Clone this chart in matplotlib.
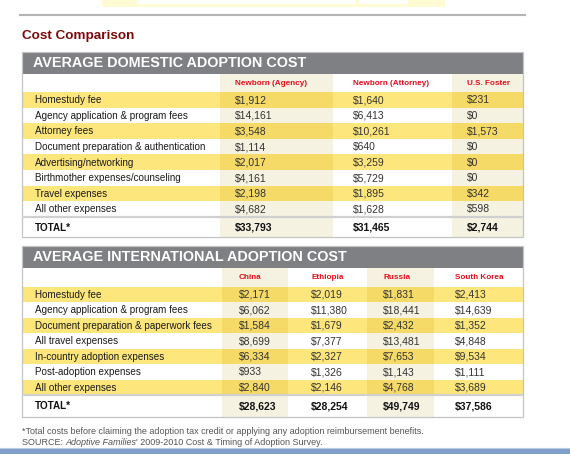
import matplotlib
matplotlib.use('Agg')
import matplotlib.pyplot as plt
from matplotlib.patches import Rectangle

# domestic adoption costs
dom_items = ['Homestudy fee', 'Agency application & program fees', 'Attorney fees',
             'Document preparation & authentication', 'Advertising/networking',
             'Birthmother expenses/counseling', 'Travel expenses', 'All other expenses']
dom_cols = ['Newborn (Agency)', 'Newborn (Attorney)', 'U.S. Foster']
dom_agency = [1912, 14161, 3548, 1114, 2017, 4161, 2198, 4682]
dom_attorney = [1640, 6413, 10261, 640, 3259, 5729, 1895, 1628]
dom_foster = [231, 0, 1573, 0, 0, 0, 342, 598]
dom_totals = [33793, 31465, 2744]

# international adoption costs
intl_items = ['Homestudy fee', 'Agency application & program fees',
              'Document preparation & paperwork fees', 'All travel expenses',
              'In-country adoption expenses', 'Post-adoption expenses', 'All other expenses']
intl_cols = ['China', 'Ethiopia', 'Russia', 'South Korea']
intl_china = [2171, 6062, 1584, 8699, 6334, 933, 2840]
intl_ethiopia = [2019, 11380, 1679, 7377, 2327, 1326, 2146]
intl_russia = [1831, 18441, 2432, 13481, 7653, 1143, 4768]
intl_korea = [2413, 14639, 1352, 4848, 9534, 1111, 3689]
intl_totals = [28623, 28254, 49749, 37586]

YELLOW = '#fde67c'
YELLOW_DARK = '#f5da68'
CREAM = '#f5f2e2'
GRAY_HEAD = '#7f8084'
RED = '#e2101c'
NARROW = ['Liberation Sans Narrow', 'DejaVu Sans Condensed', 'Liberation Sans', 'DejaVu Sans']
WIDE = ['Liberation Sans', 'DejaVu Sans']

LEFT, RIGHT = 22, 523
LABEL_FS, VALUE_FS = 7.1, 7.5


def money(v):
    return f'${v:,}'


def draw_table(ax, top, title, items, cols, values, totals, edges, text_x, shaded,
               row_h, colhead_h, total_h):
    head_h = 21.5
    # gray title bar
    ax.add_patch(Rectangle((LEFT, top), RIGHT - LEFT, head_h, color=GRAY_HEAD, lw=0))
    ax.text(LEFT + 11, top + head_h / 2 + 0.5, title, color='white', fontsize=10.4,
            fontweight='bold', family=WIDE, va='center', ha='left')

    y = top + head_h
    # column header row
    for j, col in enumerate(cols):
        if shaded[j]:
            ax.add_patch(Rectangle((edges[j], y), edges[j + 1] - edges[j], colhead_h,
                                   color=CREAM, lw=0))
        ax.text(text_x[j], y + colhead_h / 2 + 0.5, col, color=RED, fontsize=5.9,
                fontweight='bold', family=NARROW, va='center', ha='left')
    y += colhead_h

    for i, item in enumerate(items):
        yellow = i % 2 == 0
        if yellow:
            ax.add_patch(Rectangle((LEFT, y), RIGHT - LEFT, row_h, color=YELLOW, lw=0))
        for j in range(len(cols)):
            if shaded[j]:
                ax.add_patch(Rectangle((edges[j], y), edges[j + 1] - edges[j], row_h,
                                       color=YELLOW_DARK if yellow else CREAM, lw=0))
            ax.text(text_x[j], y + row_h / 2 + 0.5, money(values[j][i]), color='#333333',
                    fontsize=VALUE_FS, family=NARROW, va='center', ha='left')
        ax.text(35, y + row_h / 2 + 0.5, item, color='#1a1a1a', fontsize=LABEL_FS,
                family=NARROW, va='center', ha='left')
        y += row_h

    # total row
    for j in range(len(cols)):
        if shaded[j]:
            ax.add_patch(Rectangle((edges[j], y), edges[j + 1] - edges[j], total_h,
                                   color=CREAM, lw=0))
        ax.text(text_x[j], y + total_h / 2 + 0.5, money(totals[j]), color='#111111',
                fontsize=VALUE_FS, fontweight='bold', family=NARROW, va='center', ha='left')
    ax.text(35, y + total_h / 2 + 0.5, 'TOTAL*', color='#111111', fontsize=LABEL_FS,
            fontweight='bold', family=NARROW, va='center', ha='left')
    ax.plot([LEFT, RIGHT], [y, y], color='#d0d0d0', lw=1.6, solid_capstyle='butt')

    bottom = y + total_h
    ax.add_patch(Rectangle((LEFT, top), RIGHT - LEFT, bottom - top, fill=False,
                           ec='#c4c4c4', lw=0.9))


def main():
    fig = plt.figure(figsize=(5.7, 4.54), dpi=100)
    ax = fig.add_axes([0, 0, 1, 1])
    ax.set_xlim(0, 570)
    ax.set_ylim(454, 0)
    ax.axis('off')

    # page decorations
    ax.add_patch(Rectangle((102, 0), 343, 7, color='#fffbd2', lw=0))
    ax.add_patch(Rectangle((138, 0), 218, 3.5, color='white', lw=0))
    ax.add_patch(Rectangle((359, 0), 49, 3.5, color='white', lw=0))
    ax.plot([20, 525], [15, 15], color='#b4b4b4', lw=1.5)
    ax.add_patch(Rectangle((0, 448), 570, 6, color='#7d9fc8', lw=0))
    ax.plot([0, 570], [448, 448], color='#b9cce2', lw=0.8)

    ax.text(22, 35.5, 'Cost Comparison', color='#7a0c0c', fontsize=9.7, fontweight='bold',
            family=WIDE, va='center', ha='left')

    draw_table(ax, 52, 'AVERAGE DOMESTIC ADOPTION COST', dom_items, dom_cols,
               [dom_agency, dom_attorney, dom_foster], dom_totals,
               edges=[220, 333, 452, 523], text_x=[235, 353, 467],
               shaded=[True, False, True], row_h=15.6, colhead_h=18.5, total_h=20.5)

    draw_table(ax, 246, 'AVERAGE INTERNATIONAL ADOPTION COST', intl_items, intl_cols,
               [intl_china, intl_ethiopia, intl_russia, intl_korea], intl_totals,
               edges=[222, 288, 367, 434, 523], text_x=[239, 311, 383, 455],
               shaded=[True, False, True, False], row_h=15.5, colhead_h=19, total_h=21.5)

    fs = 6.5
    ax.text(22, 431, '*Total costs before claiming the adoption tax credit or applying any '
            'adoption reimbursement benefits.', color='#555555', fontsize=fs,
            family=WIDE, va='center', ha='left')
    t = ax.text(22, 442.5, 'SOURCE: ', color='#555555', fontsize=fs, family=WIDE,
                va='center', ha='left')
    fig.canvas.draw()
    t = ax.annotate('Adoptive Families', xycoords=t, xy=(1, 0.5), va='center', ha='left',
                    color='#555555', fontsize=fs, family=WIDE, style='italic')
    ax.annotate("' 2009-2010 Cost & Timing of Adoption Survey.", xycoords=t, xy=(1, 0.5),
                va='center', ha='left', color='#555555', fontsize=fs, family=WIDE)

    fig.savefig('out.png', dpi=100)


if __name__ == '__main__':
    main()
